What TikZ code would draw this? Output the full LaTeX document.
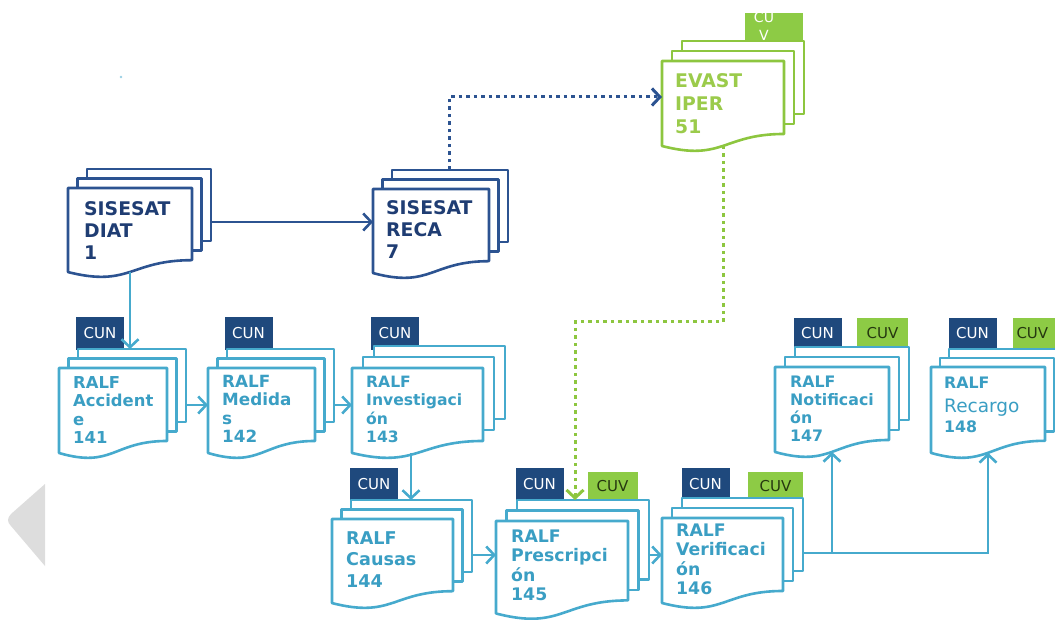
\documentclass[tikz,border=0pt]{standalone}
\usepackage{fontspec}
\setmainfont{DejaVu Sans}
\usetikzlibrary{arrows.meta}
\definecolor{navyline}{HTML}{2C5391}
\definecolor{navytext}{HTML}{1F3D73}
\definecolor{cunfill}{HTML}{1F497D}
\definecolor{lblue}{HTML}{46AACD}
\definecolor{lbtext}{HTML}{3A9EC3}
\definecolor{gline}{HTML}{8DC63F}
\definecolor{gtext}{HTML}{9BCB4B}
\definecolor{cuvfill}{HTML}{8DCB45}
\definecolor{cuvtext}{HTML}{263810}
\definecolor{grayshape}{HTML}{DDDDDD}
\tikzset{
  page/.style={draw=#1, line width=2.6pt, fill=white, line join=round},
  conn/.style={draw=#1, line width=2.6pt, -{Straight Barb[length=8pt,width=17pt]}},
  dotconn/.style={draw=#1, line width=3pt, dash pattern=on 3.5pt off 4pt, -{Straight Barb[length=8pt,width=17pt]}},
  cuntag/.style={fill=cunfill, inner sep=0pt, minimum width=48pt, minimum height=32pt, text=white, font=\fontsize{15}{15}\selectfont},
  cuvtag/.style={fill=cuvfill, inner sep=0pt, minimum width=50pt, minimum height=29pt, text=cuvtext, font=\fontsize{15}{15}\selectfont},
  doctext/.style={anchor=north west, inner sep=0pt, align=left},
}
% name, L, T, W, H, d, colour
\newcommand\docstk[7]{%
  \pgfmathsetmacro\dkR{#2+#4}%
  \pgfmathsetmacro\dkB{#3+0.802*#5}%
  \pgfmathsetmacro\dkL{#3+0.934*#5}%
  \pgfmathsetmacro\dkC{#3+1.107*#5}%
  \pgfmathsetmacro\dkM{#2+0.5*#4}%
  \pgfmathsetmacro\dkY{(4*\dkB+3*\dkC+\dkL)/8}%
  \draw[page=#7] (#2+2*#6,#3-2*#6) rectangle (\dkR+2*#6,\dkB-2*#6);
  \draw[page=#7] (#2+#6,#3-#6) rectangle (\dkR+#6,\dkB-#6);
  \draw[page=#7] (#2,#3) -- (\dkR,#3) -- (\dkR,\dkB) .. controls (\dkM,\dkB) and (\dkM,\dkC) .. (#2,\dkL) -- cycle;
  \path (#2,#3) coordinate (#1-tl)
        (\dkR,\dkB) coordinate (#1-br)
        (#2+2*#6,#3-2*#6) coordinate (#1-btl)
        (\dkR+2*#6,\dkB-2*#6) coordinate (#1-bbr)
        (\dkM,\dkY) coordinate (#1-bot);
}
\begin{document}
\begin{tikzpicture}[x=1pt,y=-1pt]
\useasboundingbox (0,0) rectangle (1055,620);
\clip (0,0) rectangle (1055,620);

% decorations
\fill[grayshape] (45,484) -- (11,514) .. controls (7,518) and (7,522) .. (11,526) -- (45,566) -- cycle;
\fill[lblue!55] (121,77) circle (1.3);

% tags
\node[cuntag] (c141) at (100,333.5) {CUN};
\node[cuntag] (c142) at (248.5,333.5) {CUN};
\node[cuntag] (c143) at (395,333.5) {CUN};
\node[cuntag] (c144) at (374,484) {CUN};
\node[cuntag] (c145) at (539.5,484) {CUN};
\node[cuvtag] (v145) at (612.5,486) {CUV};
\node[cuntag] (c146) at (705.5,484) {CUN};
\node[cuvtag, minimum width=55pt] (v146) at (775.5,486) {CUV};
\node[cuntag, minimum height=31pt] (c147) at (817.5,333.5) {CUN};
\node[cuvtag, minimum width=51pt, minimum height=31pt] (v147) at (882.5,333.5) {CUV};
\node[cuntag, minimum height=31pt] (c148) at (972.5,333.5) {CUN};
\node[cuvtag, minimum width=51pt, minimum height=31pt, text width=44pt, align=left] (v148) at (1038.5,333.5) {CUV};
\node[fill=cuvfill, inner sep=0pt, minimum width=58pt, minimum height=31pt] (vev) at (774,28.5) {};

% documents
\docstk{diat}{68}{188}{124}{90}{9.5}{navyline}
\docstk{reca}{373}{189}{116}{90}{9.5}{navyline}
\docstk{evast}{662}{61}{122}{91}{10}{gline}
\docstk{d141}{59}{368}{108}{91}{9.5}{lblue}
\docstk{d142}{208}{368}{107}{91}{9.5}{lblue}
\docstk{d143}{352}{368}{131}{91}{11}{lblue}
\docstk{d144}{332}{519}{121}{90}{9.5}{lblue}
\docstk{d145}{496}{521}{132}{99}{10.5}{lblue}
\docstk{d146}{662}{518}{121}{91}{10}{lblue}
\docstk{d147}{775}{367}{114}{91}{10}{lblue}
\docstk{d148}{931}{367}{114}{92}{9}{lblue}

% texts
\node[inner sep=0pt, align=center, text=white, font=\fontsize{14}{18}\selectfont] (vevt) at (764,26) {CU\\V};
\node[doctext, text=navytext, font=\fontsize{18.8}{22}\selectfont\bfseries] (tdiat) at (84,201.3) {SISESAT\\DIAT\\1};
\node[doctext, text=navytext, font=\fontsize{18.8}{22}\selectfont\bfseries] (treca) at (386,200.3) {SISESAT\\RECA\\7};
\node[doctext, text=gtext, font=\fontsize{18.8}{23}\selectfont\bfseries] (tevast) at (675,73.3) {EVAST\\IPER\\51};
\node[doctext, text=lbtext, font=\fontsize{16.4}{18.5}\selectfont\bfseries] (t141) at (73,376) {RALF\\Accident\\e\\141};
\node[doctext, text=lbtext, font=\fontsize{16.8}{18.5}\selectfont\bfseries] (t142) at (222,374.7) {RALF\\Medida\\s\\142};
\node[doctext, text=lbtext, font=\fontsize{15.6}{18.5}\selectfont\bfseries] (t143) at (366,375.6) {RALF\\Investigaci\\ón\\143};
\node[doctext, text=lbtext, font=\fontsize{17.6}{21.5}\selectfont\bfseries] (t144) at (346,531.2) {RALF\\Causas\\144};
\node[doctext, text=lbtext, font=\fontsize{17.3}{19.5}\selectfont\bfseries] (t145) at (511,529.4) {RALF\\Prescripci\\ón\\145};
\node[doctext, text=lbtext, font=\fontsize{17.3}{19.5}\selectfont\bfseries] (t146) at (676,523.4) {RALF\\Verificaci\\ón\\146};
\node[doctext, text=lbtext, font=\fontsize{15.8}{18}\selectfont\bfseries] (t147) at (790,375.5) {RALF\\Notificaci\\ón\\147};
\node[doctext, text=lbtext, font=\fontsize{15.8}{22}\selectfont\bfseries] (t148) at (944,376.5) {RALF\\[2pt]{\mdseries\fontsize{18.5}{22}\selectfont Recargo}\\[-2pt]148};

% connectors
\draw[conn=navyline] (diat-bbr |- 0,222) -- (reca-tl |- 0,222);
\draw[dotconn=navyline] (449,0 |- reca-btl) |- (evast-tl |- 0,97);
\draw[dotconn=gline] (evast-bot) -- (evast-bot |- 0,322) -| (575,0 |- d145-btl);
\draw[conn=lblue] (diat-bot) -- (diat-bot |- d141-btl);
\draw[conn=lblue] (d141-bbr |- 0,405) -- (d142-tl |- 0,405);
\draw[conn=lblue] (d142-bbr |- 0,405) -- (d143-tl |- 0,405);
\coordinate (j143) at (411,0);
\draw[conn=lblue] (j143 |- d143-bot) -- (j143 |- d144-btl);
\draw[conn=lblue] (d144-bbr |- 0,555) -- (d145-tl |- 0,555);
\draw[conn=lblue] (d145-bbr |- 0,555) -- (d146-tl |- 0,555);
\coordinate (j146) at (832,553);
\draw[conn=lblue] (d146-bbr |- j146) -| (d148-bot);
\draw[conn=lblue] (j146 -| d147-bot) -- (d147-bot);
\end{tikzpicture}
\end{document}
